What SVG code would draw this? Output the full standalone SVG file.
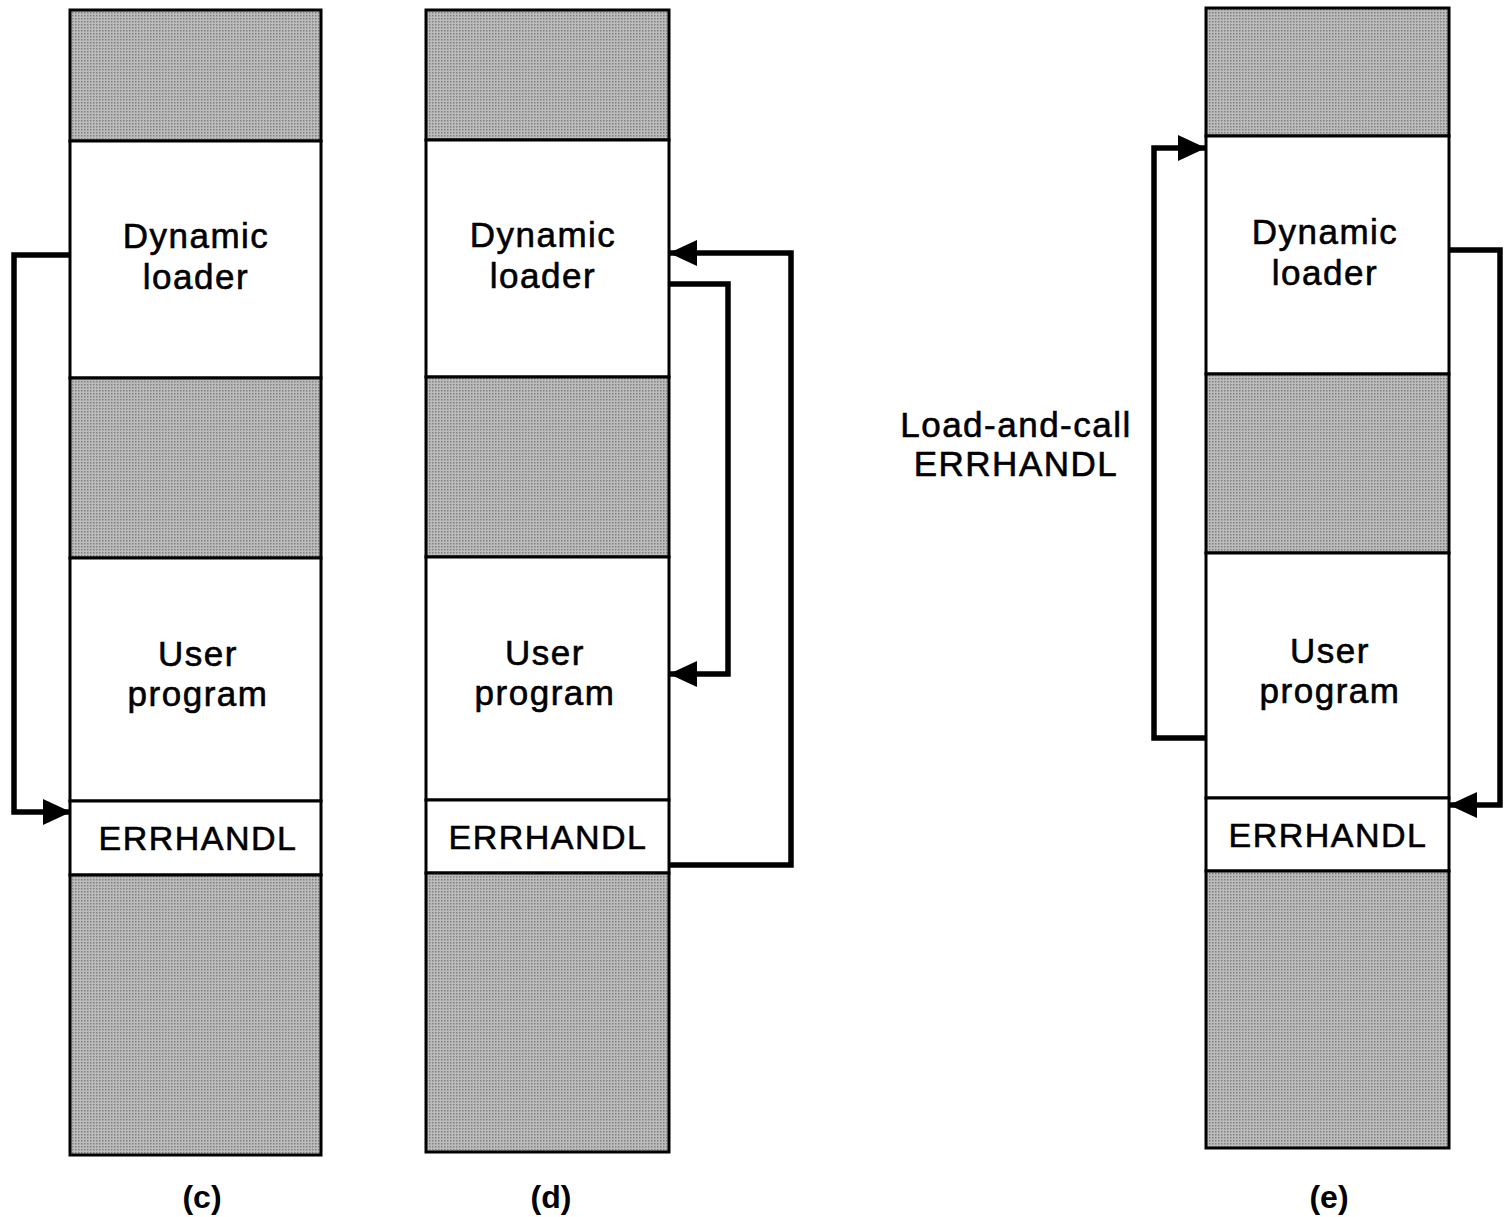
<svg xmlns="http://www.w3.org/2000/svg" width="1504" height="1217" viewBox="0 0 1504 1217">
<defs>
<pattern id="ht" width="3" height="3" patternUnits="userSpaceOnUse">
<rect width="3" height="3" fill="#bcbcbc"/>
<rect width="1.5" height="1.5" fill="#808080"/>
</pattern>
<marker id="ah" viewBox="0 0 28 26" refX="27" refY="13" markerWidth="28" markerHeight="26" markerUnits="userSpaceOnUse" orient="auto">
<path d="M0,0 L28,13 L0,26 Z" fill="#000"/>
</marker>
</defs>
<style>
.g{fill:url(#ht);stroke:#000;stroke-width:3}
.w{fill:#fff;stroke:#000;stroke-width:3}
.t{font-family:"Liberation Sans",Arial,sans-serif;font-size:35px;letter-spacing:1.5px;text-anchor:middle;fill:#000;stroke:#000;stroke-width:0.6px}
.e{font-family:"Liberation Sans",Arial,sans-serif;font-size:34px;letter-spacing:1.5px;text-anchor:middle;fill:#000;stroke:#000;stroke-width:0.6px}
.lab{font-family:"Liberation Sans",Arial,sans-serif;font-size:32px;font-weight:bold;text-anchor:middle;fill:#000}
.c{fill:none;stroke:#000;stroke-width:5.5;stroke-linejoin:miter}
</style>
<g id="col-c">
<rect class="g" x="70" y="10" width="251" height="131"/>
<rect class="w" x="70" y="141" width="251" height="237"/>
<rect class="g" x="70" y="378" width="251" height="180"/>
<rect class="w" x="70" y="558" width="251" height="243"/>
<rect class="w" x="70" y="801" width="251" height="74"/>
<rect class="g" x="70" y="875" width="251" height="280"/>
<text class="t" x="196" y="248">Dynamic</text>
<text class="t" x="196" y="289">loader</text>
<text class="t" x="198" y="666">User</text>
<text class="t" x="198" y="706">program</text>
<text class="e" x="198" y="850">ERRHANDL</text>
<text class="lab" x="202" y="1208">(c)</text>
</g>
<g id="col-d">
<rect class="g" x="426" y="10" width="243" height="130"/>
<rect class="w" x="426" y="140" width="243" height="237"/>
<rect class="g" x="426" y="377" width="243" height="180"/>
<rect class="w" x="426" y="557" width="243" height="243"/>
<rect class="w" x="426" y="800" width="243" height="73"/>
<rect class="g" x="426" y="873" width="243" height="279"/>
<text class="t" x="543" y="247">Dynamic</text>
<text class="t" x="543" y="288">loader</text>
<text class="t" x="545" y="665">User</text>
<text class="t" x="545" y="705">program</text>
<text class="e" x="548" y="849">ERRHANDL</text>
<text class="lab" x="551" y="1208">(d)</text>
</g>
<g id="col-e">
<rect class="g" x="1206" y="8" width="243" height="128"/>
<rect class="w" x="1206" y="136" width="243" height="238"/>
<rect class="g" x="1206" y="374" width="243" height="179"/>
<rect class="w" x="1206" y="553" width="243" height="245"/>
<rect class="w" x="1206" y="798" width="243" height="73"/>
<rect class="g" x="1206" y="871" width="243" height="277"/>
<text class="t" x="1325" y="244">Dynamic</text>
<text class="t" x="1325" y="285">loader</text>
<text class="t" x="1330" y="663">User</text>
<text class="t" x="1330" y="703">program</text>
<text class="e" x="1328" y="847">ERRHANDL</text>
<text class="lab" x="1329" y="1208">(e)</text>
</g>
<g id="note">
<text class="t" x="1016" y="437">Load-and-call</text>
<text class="t" x="1016" y="476">ERRHANDL</text>
</g>
<g id="connectors">
<path class="c" d="M70,255 H14 V812 H70" marker-end="url(#ah)"/>
<path class="c" d="M669,284 H728 V674 H670" marker-end="url(#ah)"/>
<path class="c" d="M669,865 H791 V253 H670" marker-end="url(#ah)"/>
<path class="c" d="M1206,738 H1154 V148 H1205" marker-end="url(#ah)"/>
<path class="c" d="M1449,250 H1500 V805 H1450" marker-end="url(#ah)"/>
</g>
</svg>
